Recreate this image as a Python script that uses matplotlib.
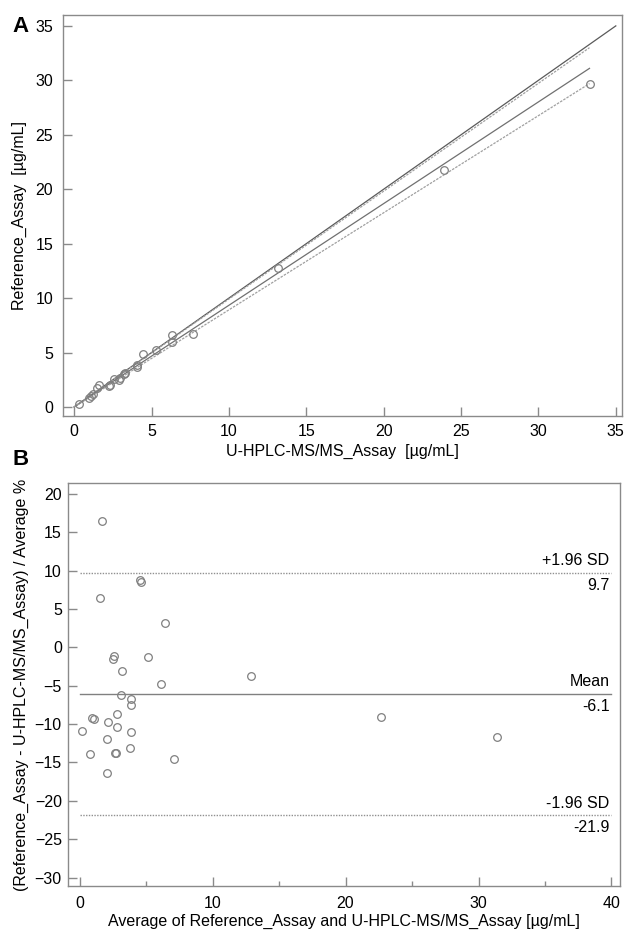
import matplotlib
matplotlib.use("Agg")
import matplotlib.pyplot as plt
from matplotlib.ticker import MultipleLocator

plt.rcParams['font.family'] = ['Liberation Sans', 'DejaVu Sans']

# ---------- Panel A data (U-HPLC-MS/MS vs Reference) ----------
uhplc = [0.30, 0.94, 1.12, 1.22, 1.61, 1.48, 2.30, 2.26, 2.56, 2.95, 2.90,
         3.27, 3.23, 4.03, 4.09, 4.45, 5.26, 6.33, 6.33, 7.71, 13.2, 23.9, 33.3]
reference = [0.30, 0.86, 1.01, 1.17, 2.00, 1.72, 2.02, 1.93, 2.58, 2.64, 2.51,
             3.16, 3.06, 3.71, 3.84, 4.88, 5.22, 5.98, 6.62, 6.74, 12.8, 21.8, 29.7]

identity_x = [0, 35]
identity_y = [0, 35]
fit_x = [0, 33.3]
fit_y = [0.0, 31.1]
ci_upper_y = [0.0, 33.0]
ci_lower_y = [0.0, 29.7]

# ---------- Panel B data (Bland-Altman, % difference) ----------
ba_avg = [1.68, 1.50, 4.51, 4.64, 6.44, 2.56, 2.48, 5.14, 3.21, 12.9, 6.12,
          3.14, 3.86, 3.86, 2.83, 0.90, 1.08, 2.13, 0.18, 2.83, 3.86, 2.06,
          3.79, 0.78, 2.68, 2.76, 7.12, 2.06, 22.7, 31.4]
ba_diff = [16.47, 6.48, 8.73, 8.47, 3.13, -1.13, -1.56, -1.22, -3.04, -3.78, -4.78,
           -6.21, -6.78, -7.52, -8.65, -9.21, -9.35, -9.74, -10.87, -10.39, -10.99, -12.0,
           -13.08, -13.86, -13.82, -13.82, -14.56, -16.34, -9.04, -11.7]

ba_mean = -6.1
ba_upper = 9.7
ba_lower = -21.9
ba_line_labels = ["+1.96 SD", "Mean", "-1.96 SD"]

W, H = 624, 934
fig = plt.figure(figsize=(W / 100, H / 100), dpi=100)

def ax_rect(l, r, t, b):
    return [l / W, 1 - b / H, (r - l) / W, (b - t) / H]

spine_c = '#8a8a8a'
mk_c = '#808080'

def style(ax, pad):
    for s in ax.spines.values():
        s.set_color(spine_c)
        s.set_linewidth(1.0)
    ax.tick_params(direction='in', colors=spine_c, labelcolor='black',
                   labelsize=11.5, length=6.5, width=1.0, pad=pad)
    ax.tick_params(which='minor', direction='in', colors=spine_c, length=3.5, width=1.0)

# ---------- Panel A ----------
axA = fig.add_axes(ax_rect(63, 622, 15, 416))
axA.plot(identity_x, identity_y, color='#5a5a5a', lw=0.9)
axA.plot(fit_x, ci_upper_y, color='#a0a0a0', lw=0.9, ls=(0, (2, 1)))
axA.plot(fit_x, fit_y, color='#707070', lw=0.9)
axA.plot(fit_x, ci_lower_y, color='#a0a0a0', lw=0.9, ls=(0, (2, 1)))
axA.plot(uhplc, reference, ls='none', marker='o', ms=5.5, mfc='none',
         mec=mk_c, mew=0.9)
axA.set_xlim(-0.72, 35.4)
axA.set_ylim(-0.83, 36.0)
axA.xaxis.set_major_locator(MultipleLocator(5))
axA.yaxis.set_major_locator(MultipleLocator(5))
style(axA, 7)
axA.tick_params(axis='x', pad=6)
axA.set_xlabel("U-HPLC-MS/MS_Assay  [µg/mL]", fontsize=11.5, labelpad=3)
axA.set_ylabel("Reference_Assay  [µg/mL]", fontsize=11.5, labelpad=6)
fig.text(12 / W, 1 - 26 / H, "A", fontsize=16, fontweight='bold', va='center', ha='left')

# ---------- Panel B ----------
axB = fig.add_axes(ax_rect(68, 620, 483, 886))
axB.plot(ba_avg, ba_diff, ls='none', marker='o', ms=5.5, mfc='none',
         mec=mk_c, mew=0.9)
levels = [ba_upper, ba_mean, ba_lower]
styles = [(0, (1, 1)), '-', (0, (1, 1))]
colors = ['#909090', '#808080', '#909090']
for lab, lv, ls, c in zip(ba_line_labels, levels, styles, colors):
    axB.plot([0, 40], [lv, lv], color=c, lw=1.0, ls=ls)
    axB.annotate(lab, xy=(40, lv), xytext=(-1.5, 3.5), textcoords='offset points',
                 ha='right', va='bottom', fontsize=11.5)
    axB.annotate(f"{lv:.1f}", xy=(40, lv), xytext=(-1.5, -3.5), textcoords='offset points',
                 ha='right', va='top', fontsize=11.5)
axB.set_xlim(-0.87, 40.64)
axB.set_ylim(-31.1, 21.4)
axB.xaxis.set_major_locator(MultipleLocator(10))
axB.xaxis.set_minor_locator(MultipleLocator(5))
axB.yaxis.set_major_locator(MultipleLocator(5))
style(axB, 4.5)
axB.tick_params(axis='x', pad=7)
axB.set_xlabel("Average of Reference_Assay and U-HPLC-MS/MS_Assay [µg/mL]",
               fontsize=11.5, labelpad=2)
axB.set_ylabel("(Reference_Assay - U-HPLC-MS/MS_Assay) / Average %",
               fontsize=11.5, labelpad=4)
fig.text(12 / W, 1 - 460 / H, "B", fontsize=16, fontweight='bold', va='center', ha='left')

fig.savefig("out.png", dpi=100)
